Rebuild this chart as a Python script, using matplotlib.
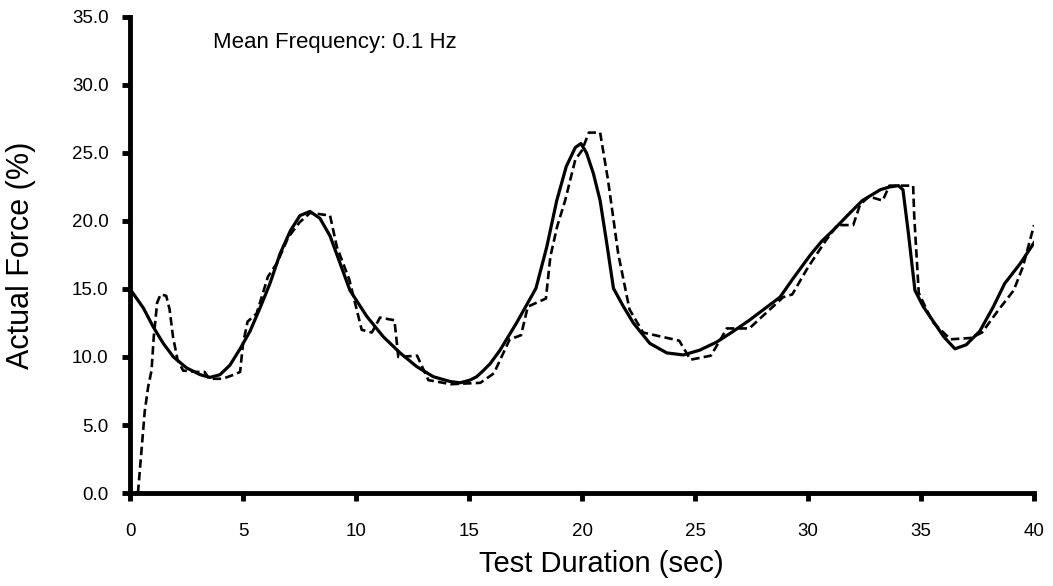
#!/usr/bin/env python3
# Target vs actual force over a 40 s test
import matplotlib
matplotlib.use("Agg")
import matplotlib.pyplot as plt

plt.rcParams['font.family'] = ['Liberation Sans', 'DejaVu Sans']

# Target force (solid)
target_t = [0.0, 0.59, 1.03, 1.47, 1.92, 2.5, 3.1, 3.54, 3.98, 4.42, 4.87, 5.31, 5.75,
            6.19, 6.64, 7.1, 7.52, 7.96, 8.4, 8.85, 9.29, 9.73, 10.47, 11.2, 11.95,
            12.68, 13.42, 14.16, 14.6, 15.04, 15.34, 15.63, 15.93, 16.37, 17.1, 17.96,
            18.44, 18.88, 19.3, 19.7, 19.95, 20.2, 20.5, 20.8, 21.09, 21.39, 21.8,
            22.27, 23.0, 23.75, 24.48, 25.2, 25.96, 26.7, 27.4, 28.2, 28.76, 29.35,
            30.1, 30.6, 31.1, 31.8, 32.4, 33.2, 33.6, 34.0, 34.2, 34.44, 34.73, 35.1,
            35.55, 36.0, 36.5, 37.0, 37.6, 38.2, 38.7, 39.4, 40.0]
target_v = [15.0, 13.6, 12.2, 11.0, 10.0, 9.2, 8.7, 8.5, 8.7, 9.4, 10.6, 11.9, 13.6,
            15.4, 17.6, 19.3, 20.4, 20.7, 20.2, 18.9, 16.9, 14.9, 13.0, 11.5, 10.3,
            9.3, 8.55, 8.2, 8.1, 8.3, 8.55, 9.0, 9.5, 10.5, 12.5, 15.05,
            18.1, 21.5, 24.0, 25.4, 25.7, 25.0, 23.5, 21.5, 18.4, 15.05, 13.8,
            12.5, 11.0, 10.3, 10.15, 10.5, 11.1, 11.9, 12.7, 13.7, 14.4, 15.8,
            17.5, 18.5, 19.3, 20.5, 21.5, 22.3, 22.5, 22.6, 22.3, 19.1, 14.9, 13.7,
            12.6, 11.5, 10.6, 10.9, 11.9, 13.7, 15.4, 16.9, 18.4]

# Actual force (dashed)
actual_t = [0.35, 0.5, 0.65, 0.8, 0.95, 1.05, 1.2, 1.35, 1.6, 1.75, 1.9, 2.1, 2.35,
            2.95, 3.3, 3.5, 4.1, 4.6, 4.87, 5.0, 5.2, 5.6, 5.75, 6.1, 6.5, 7.0, 7.5,
            7.97, 8.85, 9.15, 9.7, 10.25, 10.7, 11.06, 11.7, 11.87, 12.7, 13.2, 14.2,
            15.5, 16.1, 16.8, 17.3, 17.6, 18.4, 18.6, 18.9, 19.25, 19.7, 20.0, 20.3,
            20.8, 21.15, 21.6, 22.1, 22.7, 24.3, 24.8, 25.7, 26.2, 26.4, 27.4, 28.9,
            29.3, 30.0, 30.4, 30.8, 31.3, 32.0, 32.3, 32.7, 33.3, 33.6, 34.65, 34.7,
            34.9, 35.5, 36.3, 37.2, 37.7, 38.4, 39.1, 39.5, 40.0]
actual_v = [0.0, 3.0, 6.0, 7.8, 9.0, 11.5, 14.0, 14.6, 14.5, 13.5, 11.5, 9.8, 9.0,
            8.9, 8.9, 8.4, 8.4, 8.7, 8.9, 11.0, 12.6, 13.2, 14.0, 15.9, 16.9, 18.8, 19.9,
            20.6, 20.4, 18.1, 15.7, 12.0, 11.8, 12.9, 12.7, 10.0, 10.1, 8.3, 8.0,
            8.1, 8.8, 11.3, 11.6, 13.7, 14.3, 17.4, 19.6, 21.5, 24.5, 25.2, 26.5,
            26.5, 23.0, 17.6, 13.5, 11.8, 11.2, 9.8, 10.1, 11.5, 12.1, 12.1, 14.4,
            14.6, 16.6, 17.6, 18.6, 19.7, 19.7, 21.2, 21.8, 21.5, 22.6, 22.6, 20.3,
            14.7, 12.6, 11.3, 11.4, 11.8, 13.4, 14.9, 16.6, 19.7]

x_ticks = [0, 5, 10, 15, 20, 25, 30, 35, 40]
y_ticks = [0, 5, 10, 15, 20, 25, 30, 35]

fig = plt.figure(figsize=(10.53, 5.86), dpi=100)
ax = fig.add_axes([0.1235, 0.1587, 0.8585, 0.8123])

ax.plot(target_t, target_v, color='black', lw=2.3, solid_joinstyle='round')
ax.plot(actual_t, actual_v, color='black', lw=1.9, dashes=(3.2, 1.6),
        dash_joinstyle='round')

ax.set_xlim(0, 40)
ax.set_ylim(0, 35)
ax.set_xticks(x_ticks)
ax.set_yticks(y_ticks)
ax.set_yticklabels(['%.1f' % v for v in y_ticks])

for s in ['top', 'right']:
    ax.spines[s].set_visible(False)
for s in ['left', 'bottom']:
    ax.spines[s].set_linewidth(3.5)
    ax.spines[s].set_capstyle('projecting')

ax.tick_params(axis='both', direction='out', length=5.5, width=3.5, labelsize=13.5)
ax.tick_params(axis='y', pad=10)
ax.tick_params(axis='x', pad=16)

ax.set_xlabel('Test Duration (sec)', fontsize=21)
ax.xaxis.set_label_coords(0.521, -0.12)
ax.set_ylabel('Actual Force (%)', fontsize=22)
ax.yaxis.set_label_coords(-0.104, 0.5)

ax.text(3.67, 32.7, 'Mean Frequency: 0.1 Hz', fontsize=16, va='baseline', ha='left')

fig.savefig('out.png', dpi=100)
